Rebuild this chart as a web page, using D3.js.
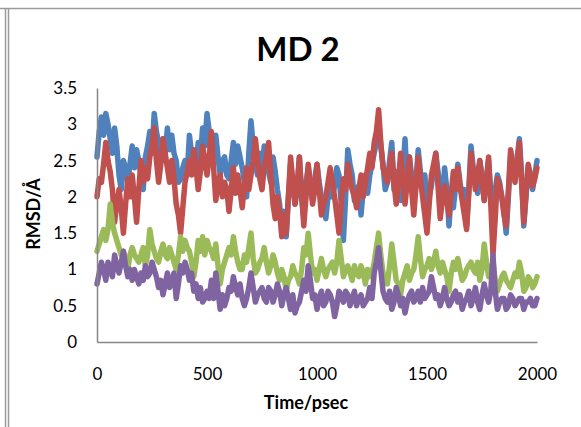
<!DOCTYPE html>
<html><head><meta charset="utf-8">
<script src="https://cdn.jsdelivr.net/npm/d3@7"></script>
<style>body{margin:0;background:#fff}svg{display:block}</style>
</head><body>
<script>
// samples every 20 psec (t = 0, 20, ..., 2000)
const timesMain = d3.range(0, 2001, 20);
// samples in between (t = 10, 30, ..., 1990)
const timesMid = d3.range(10, 2000, 20);

const blue = [2.55,3.1,3.15,2.8,2.95,2.3,2.5,2.2,2.7,2.65,2.3,2.55,2.9,3.15,2.75,2.8,2.95,2.85,2.5,2.25,2.5,2.85,2.55,2.75,2.95,3.15,2.45,2.85,2.3,2.55,2.25,2.75,2.7,2.4,2.0,3.05,2.45,2.6,2.7,2.35,2.55,2.1,1.5,1.45,2.45,1.9,2.55,1.7,2.4,1.95,2.45,2.0,1.7,2.35,2.15,2.3,1.4,2.65,2.3,2.1,1.75,2.3,2.3,2.6,3.05,2.45,2.2,2.75,2.35,1.95,2.8,2.55,2.0,2.65,2.1,1.9,2.15,2.6,2.1,2.4,1.6,1.85,2.45,2.0,1.6,2.7,2.25,2.5,1.95,2.5,1.8,2.3,2.0,1.5,2.55,2.3,2.8,1.6,2.4,2.1,2.5];
const blueMid = [2.9,2.85,3.0,2.6,2.7,2.1,2.4,2.45,2.4,2.5,2.1,2.7,2.6,2.9,2.55,2.6,2.65,2.6,2.2,2.4,2.3,2.6,2.35,2.55,2.7,2.9,2.6,2.55,2.5,2.3,2.5,2.45,2.55,2.2,2.6,2.7,2.3,2.4,2.5,2.2,2.35,1.9,1.8,2.0,2.2,2.1,2.0,2.2,2.1,2.25,2.2,1.9,2.0,2.0,2.4,1.9,2.0,2.45,1.95,2.15,2.1,2.05,2.45,2.75,2.7,2.1,2.5,2.1,2.25,2.3,2.2,2.3,2.2,2.35,2.3,2.0,2.4,2.35,1.95,2.1,2.05,2.15,2.2,2.1,2.1,2.4,2.05,2.3,2.2,2.05,2.1,2.2,1.8,2.0,2.4,2.55,2.3,2.0,2.3,2.3];

const red = [2.0,2.2,2.75,2.35,1.65,2.1,1.5,2.25,2.3,1.65,2.5,2.4,2.55,2.95,2.2,2.8,2.4,2.5,1.9,1.5,2.2,2.5,2.65,2.1,2.7,2.3,2.9,1.95,2.3,2.2,1.8,2.4,2.3,1.85,2.4,2.3,2.8,2.25,2.4,2.75,1.9,2.0,1.45,1.5,2.55,1.9,2.55,1.6,2.45,1.9,2.45,1.75,2.0,2.4,2.0,1.5,2.25,2.45,2.1,1.85,2.3,2.2,2.6,2.75,3.2,2.4,2.2,2.6,1.9,2.6,1.9,2.55,1.75,2.55,2.0,1.5,2.3,2.6,1.7,2.15,1.75,2.35,2.4,1.95,1.55,2.6,2.1,2.5,1.95,2.55,1.2,2.25,2.0,1.6,2.65,2.2,2.75,1.65,2.45,2.15,2.4];
const redMid = [2.25,2.45,2.5,2.1,1.9,1.85,1.9,2.0,2.0,2.1,2.2,2.25,2.7,2.5,2.45,2.6,2.2,2.25,1.75,1.85,2.35,2.3,2.4,2.35,2.5,2.55,2.4,2.2,2.0,2.1,2.1,2.05,2.1,2.15,2.1,2.5,2.5,2.1,2.55,2.3,1.7,1.8,1.75,2.0,2.2,2.15,2.05,2.0,2.2,2.1,2.1,1.9,2.2,2.2,1.75,1.9,2.1,2.25,2.0,2.1,2.0,2.4,2.4,2.9,2.75,2.3,2.4,2.2,2.2,2.25,2.2,2.1,2.15,2.25,1.75,1.9,2.45,2.15,1.95,1.95,2.05,2.1,2.15,1.75,2.05,2.35,2.3,2.2,2.25,1.9,1.7,2.15,1.75,2.1,2.45,2.45,2.2,2.05,2.3,2.25];

const green = [1.25,1.45,1.4,1.9,1.5,1.3,1.25,1.0,1.3,1.15,1.2,1.05,1.55,1.25,1.1,1.35,1.15,1.2,1.0,1.45,1.4,1.25,0.9,1.4,1.45,1.4,1.25,1.35,0.8,1.1,1.3,1.45,1.1,1.0,1.1,1.5,0.95,1.1,1.3,0.95,1.2,0.95,1.0,0.7,0.9,0.95,0.8,1.3,1.5,0.95,0.85,1.15,0.9,1.05,0.95,1.4,0.9,1.05,0.85,0.95,1.05,0.8,0.9,1.1,1.5,0.95,0.8,1.35,0.85,0.65,0.95,0.85,1.0,1.45,0.9,1.05,1.0,1.25,0.95,1.0,0.7,1.1,1.15,0.85,1.0,1.1,0.95,0.85,1.35,0.9,1.1,0.7,0.9,0.85,0.75,0.95,1.1,0.7,0.9,0.75,0.9];
const greenMid = [1.35,1.55,1.55,1.65,1.4,1.2,1.15,1.2,1.2,1.1,1.3,1.2,1.35,1.15,1.25,1.2,1.3,1.1,1.2,1.25,1.3,1.1,1.1,1.25,1.2,1.3,1.15,1.05,1.0,1.2,1.2,1.25,1.0,1.2,1.3,1.15,1.0,1.15,1.1,1.05,1.1,0.85,0.9,0.85,1.05,0.9,1.0,1.2,1.2,1.0,1.0,1.0,1.0,1.1,1.1,1.15,1.0,0.95,1.05,0.9,0.95,1.0,0.95,1.3,1.2,0.9,1.05,1.1,0.8,0.85,1.05,0.95,1.2,1.15,1.0,1.15,1.1,1.05,1.1,0.9,0.95,1.0,1.0,0.9,1.05,1.0,1.1,1.0,1.1,1.0,0.85,0.8,0.95,0.8,0.85,0.9,0.95,0.75,0.85,0.8];

const purple = [0.8,1.1,0.85,1.0,1.2,0.95,1.25,0.9,0.85,0.9,0.95,1.05,0.95,1.0,0.75,0.65,0.95,0.85,0.6,1.05,1.1,0.85,0.7,0.6,0.55,0.7,0.85,0.95,0.45,0.5,0.75,0.9,0.65,0.6,0.6,0.95,0.55,0.7,0.6,0.75,0.55,0.8,0.5,0.75,0.45,0.4,0.55,0.85,1.05,0.6,0.45,0.7,0.55,0.65,0.35,0.7,0.55,0.65,0.6,0.5,0.65,0.55,0.75,0.95,1.3,0.7,0.55,0.45,0.75,0.5,0.4,0.65,0.55,0.7,0.75,0.65,0.9,0.6,0.5,0.75,0.5,0.65,0.55,0.45,0.6,0.5,0.75,0.45,0.8,0.55,1.2,0.45,0.6,0.45,0.65,0.5,0.6,0.45,0.55,0.5,0.6];
const purpleMid = [0.95,1.0,1.1,0.9,1.05,1.1,1.05,1.0,1.0,0.8,0.85,0.9,1.1,0.9,0.85,0.8,0.75,0.95,0.8,0.95,1.0,0.95,0.8,0.75,0.6,0.6,0.6,0.7,0.65,0.6,0.7,0.75,0.8,0.5,0.75,0.75,0.65,0.75,0.55,0.7,0.65,0.7,0.65,0.6,0.65,0.5,0.7,0.7,0.85,0.65,0.6,0.5,0.7,0.55,0.5,0.65,0.7,0.5,0.7,0.6,0.5,0.6,0.6,1.1,1.0,0.6,0.7,0.55,0.65,0.6,0.55,0.7,0.6,0.55,0.6,0.7,0.75,0.65,0.6,0.6,0.55,0.7,0.65,0.55,0.7,0.6,0.55,0.65,0.65,0.7,0.7,0.55,0.6,0.5,0.6,0.55,0.6,0.55,0.6,0.5];

const xTicks = [0, 500, 1000, 1500, 2000];
const yTicks = [0, 0.5, 1, 1.5, 2, 2.5, 3, 3.5];

function combine(main, mid) {
  const pts = main.map((v, i) => ({t: timesMain[i], v}))
    .concat(mid.map((v, i) => ({t: timesMid[i], v})));
  return pts.sort((a, b) => a.t - b.t);
}

const seriesList = [
  {name: "blue", values: combine(blue, blueMid), color: "#4F81BD"},
  {name: "red", values: combine(red, redMid), color: "#C0504D"},
  {name: "green", values: combine(green, greenMid), color: "#9BBB59"},
  {name: "purple", values: combine(purple, purpleMid), color: "#8064A2"}
];

const W = 581, H = 427;
const svg = d3.select("body").append("svg").attr("width", W).attr("height", H);
const font = "Lato, 'Open Sans', sans-serif";

// frame
svg.append("line").attr("x1", 0).attr("x2", W).attr("y1", 8.5).attr("y2", 8.5).attr("stroke", "#9a9a9a").attr("stroke-width", 1.5);
svg.append("line").attr("x1", 5.5).attr("x2", 5.5).attr("y1", 8).attr("y2", H).attr("stroke", "#9a9a9a").attr("stroke-width", 1.5);
svg.append("line").attr("x1", 8.5).attr("x2", 8.5).attr("y1", 8).attr("y2", H).attr("stroke", "#9a9a9a").attr("stroke-width", 1.5);

const x = d3.scaleLinear().domain([0, 2000]).range([97, 537]);
const y = d3.scaleLinear().domain([0, 3.5]).range([342, 88]);

const line = d3.line().x(d => x(d.t)).y(d => y(d.v));
seriesList.forEach(s => {
  svg.append("path").datum(s.values).attr("d", line)
    .attr("fill", "none").attr("stroke", s.color).attr("stroke-width", 5.5)
    .attr("stroke-linejoin", "round").attr("stroke-linecap", "round");
});

// axes
const yAxis = svg.append("g").attr("transform", "translate(97,0)")
  .call(d3.axisLeft(y).tickValues(yTicks).tickSize(0).tickPadding(20).tickFormat(d => String(d)));
const xAxis = svg.append("g").attr("transform", "translate(0,342)")
  .call(d3.axisBottom(x).tickValues(xTicks).tickSize(0).tickPadding(26).tickFormat(d => String(d)));
[xAxis, yAxis].forEach(g => {
  g.select(".domain").attr("stroke", "#868686").attr("stroke-width", 1.5);
  g.selectAll("text").attr("font-family", font).attr("font-size", 17).attr("fill", "#000");
});

svg.append("text").attr("x", 298).attr("y", 61).attr("text-anchor", "middle")
  .attr("font-family", font).attr("font-weight", "bold").attr("font-size", 33).text("MD 2");
svg.append("text").attr("x", 306).attr("y", 409).attr("text-anchor", "middle")
  .attr("font-family", font).attr("font-weight", "bold").attr("font-size", 18).text("Time/psec");
svg.append("text").attr("transform", "translate(40,214) rotate(-90)").attr("text-anchor", "middle")
  .attr("font-family", font).attr("font-weight", "bold").attr("font-size", 18).text("RMSD/Å");
</script>
</body></html>
